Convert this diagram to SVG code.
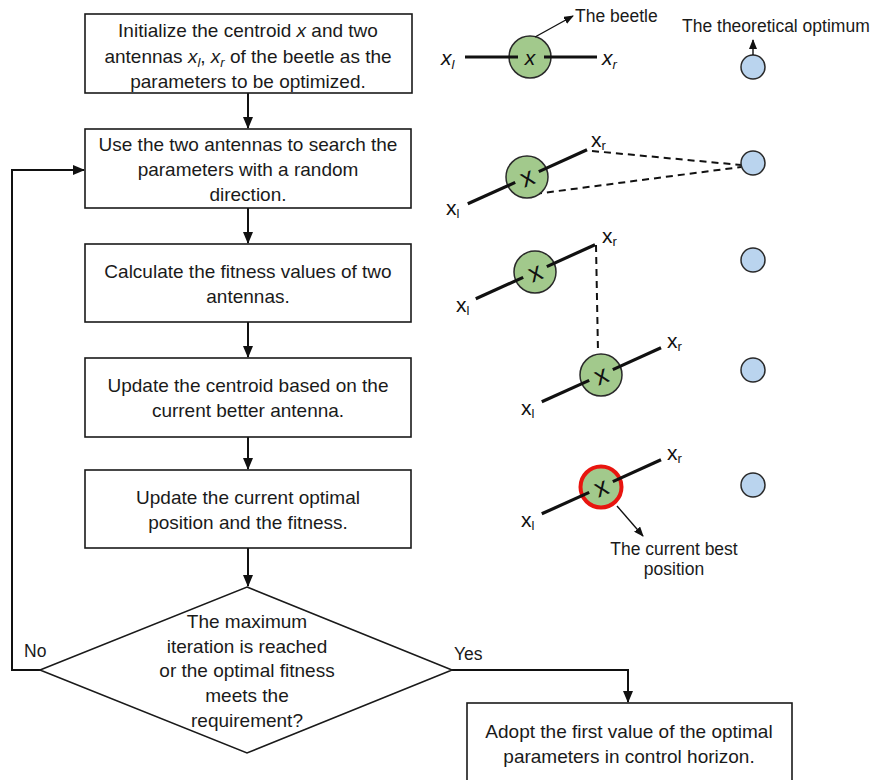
<svg xmlns="http://www.w3.org/2000/svg" width="872" height="780" viewBox="0 0 872 780">
<style>
.box{fill:#fff;stroke:#1a1a1a;stroke-width:1.6}
.ft{font-family:"Liberation Sans",Arial,sans-serif;font-size:19px;fill:#1a1a1a;text-anchor:middle}
.lab{font-family:"Liberation Sans",Arial,sans-serif;font-size:17.5px;fill:#1a1a1a}
.con{fill:none;stroke:#111;stroke-width:2}
.ant{stroke:#111;stroke-width:3.2;stroke-linecap:butt}
.beetle{fill:#a2c98c;stroke:#2a2a2a;stroke-width:1.5}
.opt{fill:#bad4ee;stroke:#2a2a2a;stroke-width:1.5}
.dash{fill:none;stroke:#111;stroke-width:2;stroke-dasharray:7,5}
.xs{font-family:"Liberation Sans",Arial,sans-serif;font-size:21px;fill:#111}
.xi{font-style:italic;font-size:21px}
.xc{font-size:26px;text-anchor:middle}
.sub{font-size:13px}
.thin{fill:none;stroke:#111;stroke-width:1.4}
</style>
<defs>
<marker id="ah" markerUnits="userSpaceOnUse" markerWidth="12" markerHeight="10" refX="11" refY="5" orient="auto">
<path d="M0,0 L12,5 L0,10 z" fill="#111"/>
</marker>
<marker id="ahs" markerUnits="userSpaceOnUse" markerWidth="10" markerHeight="8" refX="9" refY="4" orient="auto">
<path d="M0,0 L10,4 L0,8 z" fill="#111"/>
</marker>
</defs>

<g id="connectors">
<path class="con" d="M248,93 V128" marker-end="url(#ah)"/>
<path class="con" d="M248,208 V243" marker-end="url(#ah)"/>
<path class="con" d="M248,322 V357" marker-end="url(#ah)"/>
<path class="con" d="M248,437 V469" marker-end="url(#ah)"/>
<path class="con" d="M248,548 V586" marker-end="url(#ah)"/>
<path class="con" d="M40,670 H12 V170 H84" marker-end="url(#ah)"/>
<path class="con" d="M452,670 H628 V702" marker-end="url(#ah)"/>
<text class="lab" x="24" y="657">No</text>
<text class="lab" x="454" y="660">Yes</text>
</g>

<g id="n1">
<rect class="box" x="85" y="14" width="327" height="79"/>
<text class="ft" x="248" y="37">Initialize the centroid <tspan font-style="italic">x</tspan> and two</text>
<text class="ft" x="248" y="63">antennas <tspan font-style="italic">x</tspan><tspan font-style="italic" font-size="13" dy="4">l</tspan><tspan dy="-4">, </tspan><tspan font-style="italic">x</tspan><tspan font-style="italic" font-size="13" dy="4">r</tspan><tspan dy="-4"> of the beetle as the</tspan></text>
<text class="ft" x="248" y="88">parameters to be optimized.</text>
</g>

<g id="n2">
<rect class="box" x="85" y="129" width="326" height="79"/>
<text class="ft" x="248" y="151">Use the two antennas to search the</text>
<text class="ft" x="248" y="176">parameters with a random</text>
<text class="ft" x="248" y="201">direction.</text>
</g>

<g id="n3">
<rect class="box" x="85" y="244" width="326" height="78"/>
<text class="ft" x="248" y="278">Calculate the fitness values of two</text>
<text class="ft" x="248" y="303">antennas.</text>
</g>

<g id="n4">
<rect class="box" x="85" y="358" width="326" height="79"/>
<text class="ft" x="248" y="392">Update the centroid based on the</text>
<text class="ft" x="248" y="417">current better antenna.</text>
</g>

<g id="n5">
<rect class="box" x="85" y="470" width="326" height="78"/>
<text class="ft" x="248" y="504">Update the current optimal</text>
<text class="ft" x="248" y="529">position and the fitness.</text>
</g>

<g id="n6">
<polygon class="box" points="247,587 452,670 247,753 40,670"/>
<text class="ft" x="247" y="628">The maximum</text>
<text class="ft" x="247" y="653">iteration is reached</text>
<text class="ft" x="247" y="677">or the optimal fitness</text>
<text class="ft" x="247" y="702">meets the</text>
<text class="ft" x="247" y="727">requirement?</text>
</g>

<g id="n7">
<rect class="box" x="467" y="703" width="325" height="90"/>
<text class="ft" x="629" y="738">Adopt the first value of the optimal</text>
<text class="ft" x="629" y="763">parameters in control horizon.</text>
</g>

<g id="illus-row1">
<circle class="beetle" cx="530" cy="57" r="21"/>
<line class="ant" x1="465" y1="57" x2="518" y2="57"/>
<line class="ant" x1="544" y1="57" x2="597" y2="57"/>
<text class="xs xi" x="530" y="65" text-anchor="middle">x</text>
<text class="xs xi" x="441" y="65">x<tspan class="sub" dy="4">l</tspan></text>
<text class="xs xi" x="602" y="65">x<tspan class="sub" dy="4">r</tspan></text>
<path class="thin" d="M535,37 L573,16" marker-end="url(#ahs)"/>
<text class="lab" x="575" y="22">The beetle</text>
<circle class="opt" cx="753" cy="67" r="12"/>
<path class="thin" d="M753,55 V40" marker-end="url(#ahs)"/>
<text class="lab" x="682" y="32">The theoretical optimum</text>
</g>

<g id="illus-row2">
<path class="dash" d="M592,151 L741,165 M535,194 L741,167"/>
<circle class="beetle" cx="527" cy="177" r="21"/>
<line class="ant" x1="467.8" y1="203.8" x2="515.2" y2="182.4"/>
<line class="ant" x1="538.8" y1="171.6" x2="587" y2="149.7"/>
<text class="xs xc" x="527" y="186" transform="rotate(-22 527 177)">x</text>
<text class="xs" x="446" y="215">x<tspan class="sub" dy="3">l</tspan></text>
<text class="xs" x="591" y="147">x<tspan class="sub" dy="3">r</tspan></text>
<circle class="opt" cx="753" cy="163" r="12"/>
</g>

<g id="illus-row3">
<path class="dash" d="M596,245 L598,352"/>
<circle class="beetle" cx="535" cy="272" r="21"/>
<line class="ant" x1="475.8" y1="298.8" x2="523.2" y2="277.4"/>
<line class="ant" x1="546.8" y1="266.6" x2="595" y2="244.7"/>
<text class="xs xc" x="535" y="281" transform="rotate(-22 535 272)">x</text>
<text class="xs" x="456" y="312">x<tspan class="sub" dy="3">l</tspan></text>
<text class="xs" x="602" y="243">x<tspan class="sub" dy="3">r</tspan></text>
<circle class="opt" cx="753" cy="260" r="12"/>
</g>

<g id="illus-row4">
<circle class="beetle" cx="601" cy="375" r="21"/>
<line class="ant" x1="541.8" y1="401.8" x2="589.2" y2="380.4"/>
<line class="ant" x1="612.8" y1="369.6" x2="661" y2="347.7"/>
<text class="xs xc" x="601" y="384" transform="rotate(-22 601 375)">x</text>
<text class="xs" x="521" y="415">x<tspan class="sub" dy="3">l</tspan></text>
<text class="xs" x="667" y="348">x<tspan class="sub" dy="3">r</tspan></text>
<circle class="opt" cx="753" cy="370" r="12"/>
</g>

<g id="illus-row5">
<circle class="beetle" cx="601" cy="487" r="20.5" style="stroke:#e8150f;stroke-width:4"/>
<line class="ant" x1="541.8" y1="513.8" x2="589.2" y2="492.4"/>
<line class="ant" x1="612.8" y1="481.6" x2="661" y2="459.7"/>
<text class="xs xc" x="601" y="496" transform="rotate(-22 601 487)">x</text>
<text class="xs" x="521" y="527">x<tspan class="sub" dy="3">l</tspan></text>
<text class="xs" x="667" y="460">x<tspan class="sub" dy="3">r</tspan></text>
<circle class="opt" cx="753" cy="485" r="12"/>
<path class="thin" d="M617,506 L643,536" marker-end="url(#ahs)"/>
<text class="lab" x="674" y="555" text-anchor="middle">The current best</text>
<text class="lab" x="674" y="575" text-anchor="middle">position</text>
</g>
</svg>
